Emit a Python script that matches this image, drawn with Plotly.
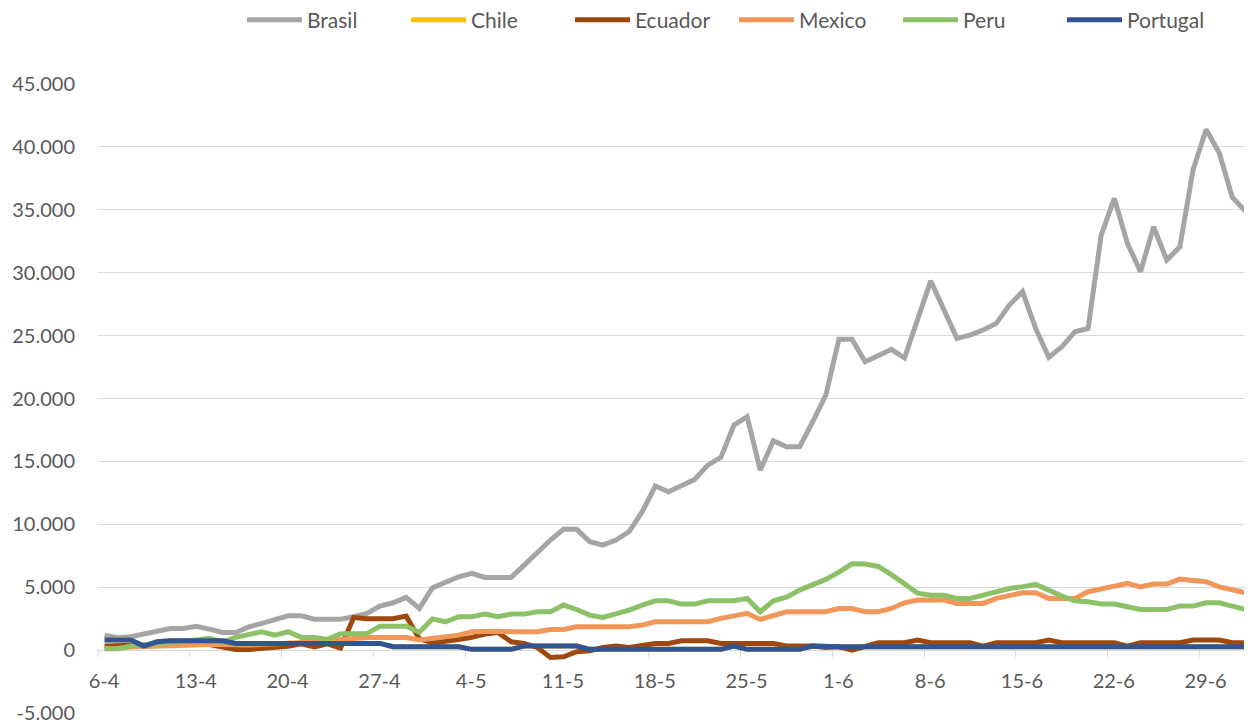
import pandas as pd
import plotly.graph_objects as go

start_date = "2020-04-06"
n_days = 88

brasil = [1190, 980, 1060, 1270, 1510, 1720, 1720, 1900, 1670, 1400, 1400, 1850, 2120, 2380,
          2730, 2730, 2460, 2460, 2460, 2650, 2920, 3500, 3760, 4190, 3310, 4950, 5350, 5830,
          6100, 5780, 5780, 5780, 6760, 7820, 8750, 9600, 9600, 8610, 8350, 8750, 9410, 11000,
          13040, 12590, 13040, 13570, 14700, 15320, 17890, 18550, 14310, 16640, 16160, 16160, 18150, 20270,
          24700, 24700, 22920, 23450, 23900, 23220, 26180, 29350, 27080, 24780, 25040, 25440, 25970, 27430,
          28490, 25570, 23270, 24110, 25310, 25570, 32990, 35910, 32330, 30080, 33650, 31000, 32060, 38160,
          41390, 39540, 35990, 34900]

portugal = [800, 800, 800, 320, 660, 740, 740, 800, 740, 740, 530, 530, 530, 530,
            530, 530, 530, 530, 530, 530, 530, 530, 265, 265, 265, 265, 265, 265,
            60, 60, 60, 60, 320, 320, 320, 320, 320, 60, 60, 60, 60, 60,
            60, 60, 60, 60, 60, 60, 320, 60, 60, 60, 60, 60, 320, 265,
            265, 265, 265, 265, 265, 265, 265, 265, 265, 265, 265, 265, 265, 265,
            265, 265, 265, 265, 265, 265, 265, 265, 265, 265, 265, 265, 265, 265,
            265, 265, 265, 265]

chile = list(portugal)

ecuador = [320, 350, 400, 400, 450, 500, 500, 500, 450, 300, 50, 50, 100, 200,
           300, 500, 250, 500, 150, 2600, 2500, 2500, 2500, 2700, 900, 560, 660, 850,
           1010, 1270, 1400, 660, 530, 210, -580, -530, -130, -50, 210, 320, 210, 320,
           530, 530, 740, 740, 740, 530, 530, 530, 530, 530, 320, 320, 320, 200,
           265, 0, 320, 580, 580, 580, 800, 580, 580, 580, 580, 320, 580, 580,
           580, 580, 800, 580, 580, 580, 580, 580, 320, 580, 580, 580, 580, 800,
           800, 800, 580, 580]

mexico = [100, 120, 250, 300, 350, 400, 450, 450, 450, 450, 400, 400, 450, 500,
          500, 600, 650, 700, 850, 950, 1000, 1000, 1000, 1000, 800, 930, 1010, 1190,
          1460, 1500, 1500, 1460, 1460, 1460, 1640, 1640, 1850, 1850, 1850, 1850, 1850, 1990,
          2250, 2250, 2250, 2250, 2250, 2520, 2700, 2920, 2440, 2780, 3050, 3050, 3050, 3050,
          3310, 3310, 3050, 3050, 3310, 3760, 3980, 3980, 3980, 3710, 3710, 3710, 4110, 4370,
          4560, 4560, 4110, 4110, 4110, 4640, 4900, 5090, 5300, 5030, 5250, 5250, 5640, 5560,
          5430, 5030, 4770, 4560]

peru = [130, 100, 320, 400, 500, 600, 700, 800, 930, 660, 1010, 1190, 1460, 1190,
        1460, 1010, 1010, 850, 1300, 1300, 1300, 1900, 1900, 1900, 1420, 2480, 2250, 2650,
        2650, 2860, 2650, 2860, 2860, 3050, 3050, 3580, 3230, 2780, 2600, 2840, 3180, 3580,
        3920, 3920, 3660, 3660, 3920, 3920, 3920, 4110, 3050, 3920, 4210, 4770, 5200, 5620,
        6200, 6860, 6850, 6650, 6000, 5300, 4530, 4370, 4370, 4110, 4110, 4370, 4640, 4900,
        5040, 5220, 4770, 4290, 3920, 3840, 3660, 3660, 3440, 3230, 3230, 3230, 3500, 3500,
        3760, 3760, 3500, 3230]

x_tick_labels = ["6-4", "13-4", "20-4", "27-4", "4-5", "11-5", "18-5", "25-5",
                 "1-6", "8-6", "15-6", "22-6", "29-6"]
y_tick_values = [-5000, 0, 5000, 10000, 15000, 20000, 25000, 30000, 35000, 40000, 45000]
y_tick_labels = ["-5.000", "0", "5.000", "10.000", "15.000", "20.000", "25.000",
                 "30.000", "35.000", "40.000", "45.000"]

series = [
    ("Brasil", brasil, "#A5A5A5"),
    ("Chile", chile, "#FFC000"),
    ("Ecuador", ecuador, "#9E480E"),
    ("Mexico", mexico, "#F1975A"),
    ("Peru", peru, "#8CC168"),
    ("Portugal", portugal, "#2F5597"),
]

dates = pd.date_range(start_date, periods=n_days, freq="D")
half = pd.Timedelta(hours=12)
tick_pos = [dates[i] - half for i in range(0, 7 * len(x_tick_labels), 7)]

fig = go.Figure()
for name, vals, color in series:
    fig.add_trace(go.Scatter(x=dates, y=vals, name=name, mode="lines",
                             line=dict(color=color, width=5)))

# page body has an 8px margin, so the figure is sized to the remaining viewport
W, H = 1244, 717
font_family = "Lato, Open Sans, sans-serif"
fig.update_layout(
    width=W, height=H,
    margin=dict(l=90, r=0, t=76, b=12, autoexpand=False),
    plot_bgcolor="white", paper_bgcolor="white",
    font=dict(family=font_family, size=20, color="#595959"),
    legend=dict(orientation="h", x=234 / W, xref="container", xanchor="left",
                y=1 - 12 / H, yref="container", yanchor="middle",
                font=dict(size=21, color="#595959"), itemwidth=55,
                entrywidth=94, entrywidthmode="pixels"),
)
fig.update_xaxes(
    type="date",
    range=[dates[0] - half, dates[-1] + half],
    tickmode="array", tickvals=tick_pos, ticktext=x_tick_labels,
    ticklabelshift=6, ticklabelstandoff=7,
    ticks="outside", ticklen=6, tickcolor="#D9D9D9", tickwidth=1,
    showline=True, linecolor="#D9D9D9", linewidth=1,
    showgrid=False, zeroline=False, automargin=False,
    anchor="free", position=0.1, layer="below traces",
)
fig.update_yaxes(
    range=[-5000, 45000],
    tickmode="array", tickvals=y_tick_values, ticktext=y_tick_labels,
    showgrid=True, gridcolor="#D9D9D9", gridwidth=1,
    zeroline=False, showline=False, ticks="", automargin=False,
    ticklabelstandoff=22,
)

fig.write_html("out.html")
